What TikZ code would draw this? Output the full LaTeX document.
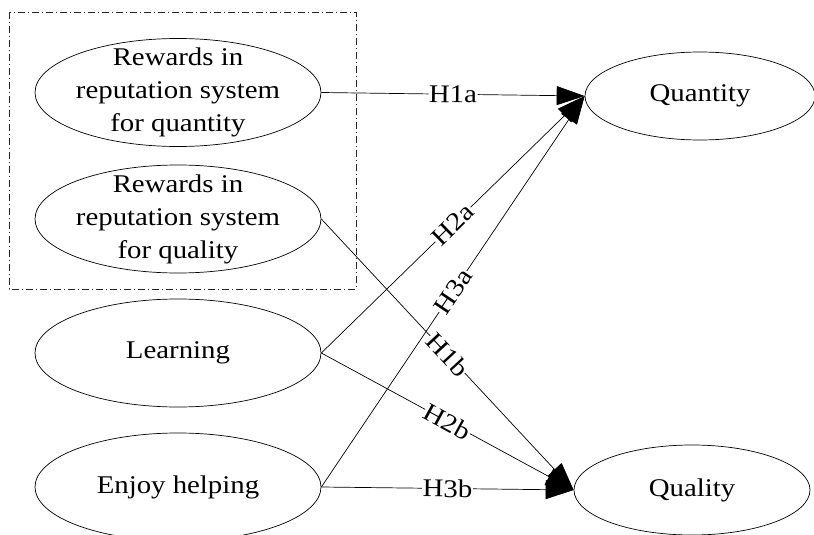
\documentclass[tikz,border=0pt]{standalone}
\usepackage{fontspec}
\setmainfont[FakeStretch=1.13]{Liberation Serif}
\usetikzlibrary{shapes.geometric,arrows.meta}

\begin{document}
\begin{tikzpicture}[x=1pt,y=-1pt,
  ell/.style={draw,ellipse,line width=0.7pt,inner sep=0pt},
  leftell/.style={ell,minimum width=286pt,minimum height=108pt},
  txt/.style={align=center,inner sep=0pt,font=\fontsize{25.5}{33}\selectfont},
  arr/.style={line width=0.7pt,-{Triangle[length=28pt,width=19pt]}},
  hyp/.style={sloped,fill=white,inner sep=0.5pt,font=\fontsize{25.5}{30}\selectfont},
  grp/.style={draw=black!85,line width=0.7pt,dash pattern=on 7pt off 3pt on 1pt off 3pt}]

\useasboundingbox (0,0) rectangle (814,535);
\clip (0,0) rectangle (814,535);

% group of reputation-system rewards
\draw[grp] (9,12) rectangle (356,289);

% predictors
\node[leftell] (rq) at (178,92.5) {};
\node[txt] (rqt) at (rq.center) {Rewards in\\reputation system\\for quantity};
\node[leftell] (rl) at (178,219) {};
\node[txt] (rlt) at (rl.center) {Rewards in\\reputation system\\for quality};
\node[leftell] (ln) at (178,353) {};
\node[txt] (lnt) at (ln.center) {Learning};
\node[leftell] (eh) at (178,487) {};
\node[txt] (eht) at (eh.center) {Enjoy helping};

% outcomes
\node[ell,minimum width=230pt,minimum height=88pt] (qn) at (700,96) {};
\node[txt] (qnt) at (qn.center) {Quantity};
\node[ell,minimum width=236pt,minimum height=90pt] (ql) at (692,490) {};
\node[txt] (qlt) at (ql.center) {Quality};

% hypotheses
\draw[arr] (rq.east) -- node[hyp] {H1a} (qn.west);
\draw[arr] (ln.east) -- node[hyp] {H2a} (qn.west);
\draw[arr] (eh.east) -- node[hyp] {H3a} (qn.west);
\draw[arr] (rl.east) -- node[hyp] {H1b} (ql.west);
\draw[arr] (ln.east) -- node[hyp] {H2b} (ql.west);
\draw[arr] (eh.east) -- node[hyp] {H3b} (ql.west);
\end{tikzpicture}
\end{document}
